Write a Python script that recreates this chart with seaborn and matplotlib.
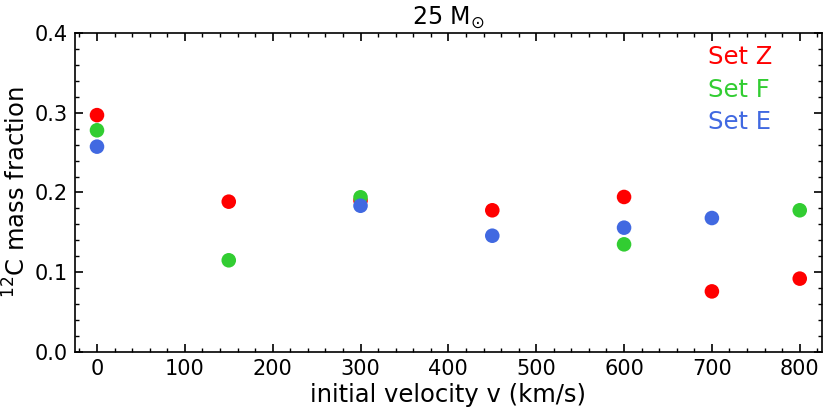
import matplotlib
matplotlib.use("Agg")
import matplotlib.pyplot as plt
import seaborn as sns
import pandas as pd
from matplotlib.ticker import MultipleLocator

sns.set_style("ticks")
plt.rcParams['font.family'] = ['DejaVu Sans']
for k in ["text.color", "axes.labelcolor", "xtick.color", "ytick.color", "axes.edgecolor"]:
    plt.rcParams[k] = "black"

set_names = ["Set Z", "Set F", "Set E"]
set_colors = ["#ff0000", "#32cd32", "#4169e1"]

vel_z = [0, 150, 300, 450, 600, 700, 800]
c12_z = [0.297, 0.1885, 0.190, 0.1777, 0.1944, 0.076, 0.092]

vel_f = [0, 150, 300, 600, 800]
c12_f = [0.278, 0.115, 0.194, 0.135, 0.1777]

vel_e = [0, 300, 450, 600, 700]
c12_e = [0.2575, 0.1834, 0.1458, 0.1559, 0.168]

df = pd.concat([
    pd.DataFrame({"v": vel_z, "c": c12_z, "set": set_names[0]}),
    pd.DataFrame({"v": vel_f, "c": c12_f, "set": set_names[1]}),
    pd.DataFrame({"v": vel_e, "c": c12_e, "set": set_names[2]}),
], ignore_index=True)

fig = plt.figure(figsize=(8.3, 4.15), dpi=100)
ax = fig.add_axes([0.0904, 0.1518, 0.8996, 0.7687])

sns.scatterplot(data=df, x="v", y="c", hue="set", hue_order=set_names,
                palette=set_colors, s=110, linewidth=0, ax=ax, legend=True)

ax.set_xlim(-25, 825)
ax.set_ylim(0.0, 0.4)
ax.xaxis.set_major_locator(MultipleLocator(100))
ax.xaxis.set_minor_locator(MultipleLocator(20))
ax.yaxis.set_major_locator(MultipleLocator(0.1))
ax.yaxis.set_minor_locator(MultipleLocator(0.02))
ax.tick_params(which="both", direction="in", top=True, right=True, labelsize=15,
               colors="black")
ax.tick_params(which="major", length=6, width=1.2)
ax.tick_params(which="minor", length=3, width=1.0)
ax.tick_params(axis="x", which="major", pad=5)
ax.tick_params(axis="y", which="major", pad=5)
for sp in ax.spines.values():
    sp.set_linewidth(1.2)
    sp.set_color("black")

ax.set_xlabel("initial velocity v (km/s)", fontsize=17.5, labelpad=3)
ax.set_ylabel(r"$^{12}$C mass fraction", fontsize=17.5, labelpad=3)
ax.set_title(r"25 M$_{\odot}$", fontsize=17, pad=6)

leg = ax.legend(loc="upper right", frameon=False, handlelength=0, handletextpad=0,
                fontsize=17.5, labelspacing=0.33, borderaxespad=0.6,
                bbox_to_anchor=(0.967, 1.037))
for h in leg.legend_handles:
    h.set_visible(False)
for t, c in zip(leg.get_texts(), set_colors):
    t.set_color(c)

fig.savefig("out.png", dpi=100)
